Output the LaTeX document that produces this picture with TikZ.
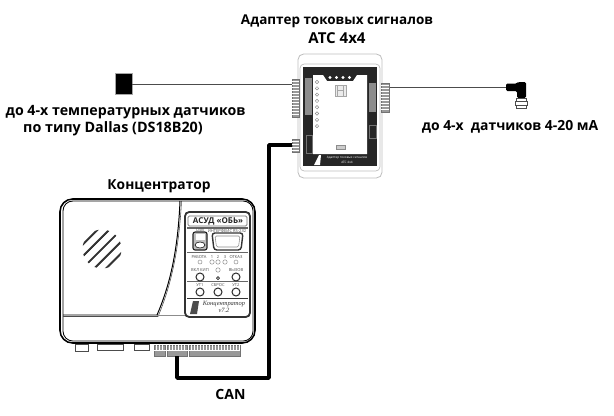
\documentclass[tikz,border=0pt]{standalone}
\usepackage{fontspec}
\setmainfont{Open Sans}
\newfontfamily\hubserif{Liberation Serif}
\usetikzlibrary{%
  calc,%
}

\tikzset{
  caption/.style={font=\fontsize{#1}{12}\selectfont\bfseries, inner sep=0pt},
  caption/.default=10,
  tiny label/.style={font=\fontsize{2.9}{3}\selectfont, inner sep=0pt, text=black!70},
  terminal/.style={draw=black!55, fill=black!40, line width=0.5pt, inner sep=0pt, anchor=north west},
  plug/.style={draw=black!70, fill=white, line width=0.5pt},
  panel key/.style={draw=black!85, line width=0.7pt, fill=white},
  panel led/.style={draw=black!45, line width=0.35pt, fill=white},
  cable/.style={black!70, line width=0.7pt},
  can cable/.style={black, line width=2.7pt, line join=round},
}

\begin{document}
\begin{tikzpicture}[x=0.25mm, y=-0.25mm]

      \useasboundingbox (0, 0) rectangle (614, 415);

      \node [caption=9.6] (adaptertitle) at (337, 21) {Адаптер токовых сигналов};
      \node [caption=10.7] (adaptermodel) at (337, 38) {АТС 4х4};
      \node [caption=10.1] (sensorstext) at (125.5, 112) {до 4-х температурных датчиков};
      \node [caption=10.2] (dallastext) at (113, 129) {по типу Dallas (DS18B20)};
      \node [caption=9.9] (currenttext) at (510, 127) {до 4-х~~датчиков 4-20 мА};
      \node [caption=9.8] (hubtext) at (159, 186) {Концентратор};
      \node [caption] (cantext) at (230.5, 394) {CAN};

      \draw [black!25, rounded corners=4pt, line width=0.6pt] (298, 54) rectangle (382, 178);
      \draw [black!25, rounded corners=3pt, line width=0.5pt] (300, 64) rectangle (380, 171);
      \fill [black!85] (303, 67) rectangle (377, 166);
      \fill [white] (313, 75) -- (323, 75) -- (327, 81) -- (353, 81) -- (357, 75) -- (367, 75) -- (367, 154) -- (313, 154) -- cycle;
      \fill [black!45] (305, 78) rectangle (312, 115);
      \fill [black!45] (369, 83) rectangle (376, 112);
      \draw [black!55, line width=0.5pt] (306, 135) rectangle (312, 153);
      \draw [black!55, line width=0.5pt] (369, 125) rectangle (376, 138);
      \foreach \n in {0, ..., 3}
        \fill [white] (330 + 6.5 * \n, 77.5) circle (1.6);
      \foreach \n in {0, ..., 7}
        \draw [panel led] (317, 82 + 6.3 * \n) circle (1.7);
      \draw [black!35, fill=black!8, line width=0.4pt] (335, 85) rectangle (346, 96);
      \draw [black!35, line width=0.4pt] (337.5, 85) -- (337.5, 96) (343.5, 85) -- (343.5, 96) (337.5, 90.5) -- (343.5, 90.5);
      \draw [black!45, fill=black!20, line width=0.4pt] (336, 145) rectangle (345, 149);
      \node [tiny label, text=white, font=\fontsize{2.2}{3}\selectfont] (adapterpanel) at (347, 158) {Адаптер токовых сигналов};
      \node [tiny label, text=white, font=\fontsize{2.2}{3}\selectfont] (adapterpanelb) at (347, 162) {АТС 4х4};
      \fill [white] (314, 165) -- (319, 155) -- (321, 155) -- (320, 165) -- cycle;

      \node [terminal, minimum width=5pt, minimum height=27pt] (adapterleft) at (292, 79) {};
      \node [terminal, minimum width=5pt, minimum height=9.3pt] (adaptercan) at (292, 139) {};
      \node [terminal, minimum width=5.7pt, minimum height=20.6pt] (adapterright) at (381, 83) {};
      \foreach \n in {0, ..., 11}
        \draw [white, line width=0.4pt] (292, 81.5 + 3 * \n) -- (299, 81.5 + 3 * \n);
      \foreach \n in {0, ..., 8}
        \draw [white, line width=0.4pt] (381, 85.5 + 3 * \n) -- (389, 85.5 + 3 * \n);
      \foreach \n in {0, ..., 3}
        \draw [white, line width=0.4pt] (292, 141.5 + 3 * \n) -- (299, 141.5 + 3 * \n);

      \node [fill=black, draw=black!35, line width=0.4pt, minimum width=12pt, minimum height=14.9pt, inner sep=0pt] (dallas) at (123.5, 83.5) {};
      \draw [cable] (dallas.east |- 0, 84) -- (adapterleft.west |- 0, 84);

      \coordinate (sensorin) at (506, 87);
      \draw [cable] (adapterright.east |- sensorin) -- (sensorin);
      \fill [black, rounded corners=1pt] (506, 83.5) -- (517, 83.5) -- (518, 82) -- (526, 82) -- (526, 98) -- (517, 98) -- (517, 91) -- (506, 91) -- cycle;
      \draw [plug] (516, 98) rectangle (526, 108);
      \draw [plug] (515, 101) rectangle (527, 105);

      \draw [black, line width=1.1pt, rounded corners=9pt] (60, 199) rectangle (255, 343);
      \draw [black, line width=0.6pt, rounded corners=7pt] (63, 201) rectangle (253, 341);
      \draw [black, line width=0.7pt] (63, 315) -- (157, 315) .. controls (170, 285) and (178, 250) .. (180, 201);
      \draw [black!70, line width=0.4pt] (63, 316.5) -- (158, 316.5) .. controls (171, 286) and (179, 250) .. (181.5, 201);
      \draw [black!45, line width=0.4pt] (157, 315) -- (185, 315);

      \begin{scope}
        \clip (102, 249) circle (19.5);
        \foreach \n in {-4, ..., 4}
          \draw [black!80, line width=1.5pt] (102 + 5.9 * \n - 25, 249 + 5.9 * \n + 25) -- (102 + 5.9 * \n + 25, 249 + 5.9 * \n - 25);
        \foreach \n in {-4, ..., 4}
          \draw [white, line width=0.7pt] (102 + 5.9 * \n - 25 + 1.2, 249 + 5.9 * \n + 25 + 1.2) -- (102 + 5.9 * \n + 25 + 1.2, 249 + 5.9 * \n - 25 + 1.2);
      \end{scope}

      \draw [black!80, fill=white, line width=1.3pt, rounded corners=3pt] (185, 212) rectangle (250, 317);
      \draw [black!55, line width=0.5pt, rounded corners=1pt] (188, 216) rectangle (247, 226);
      \node [inner sep=0pt, font=\fontsize{5.7}{6}\selectfont\bfseries, text=black!85] (hubname) at (218, 221) {АСУД «ОБЬ»};
      \draw [black!60, line width=1.1pt] (187, 228) -- (248, 228);
      \draw [black!60, line width=0.6pt] (187, 252) -- (248, 252);
      \draw [black!60, line width=0.6pt] (187, 281) -- (248, 281);
      \draw [black!80, line width=0.6pt] (187, 298) -- (248, 298);

      \node [tiny label] (usblabel) at (200, 230.2) {USB};
      \node [tiny label] (portlabel) at (227, 230.2) {ИНТЕРФЕЙС RS-232};
      \draw [black!85, line width=0.8pt, rounded corners=1.5pt, fill=black!25] (193, 232) rectangle (207, 250);
      \fill [white] (195.5, 234) rectangle (204.5, 240);
      \draw [black!85, line width=0.5pt, fill=white] (200, 245) ellipse (5 and 3);
      \draw [black!80, line width=1pt, rounded corners=2pt] (212, 233) -- (243, 233) -- (241, 250) -- (214, 250) -- cycle;
      \draw [black!45, line width=0.4pt, rounded corners=1pt] (215, 236) -- (240, 236) -- (238.5, 247) -- (216.5, 247) -- cycle;

      \node [tiny label] (ledwork) at (199, 257) {РАБОТА};
      \node [tiny label] (ledone) at (212, 257) {1};
      \node [tiny label] (ledtwo) at (218, 257) {2};
      \node [tiny label] (ledthree) at (225, 257) {3};
      \node [tiny label] (ledfail) at (236, 257) {ОТКАЗ};
      \draw [panel led] (200, 262) circle (2);
      \draw [panel led] (212, 262) circle (2.2);
      \draw [panel led] (218, 262) circle (2.2);
      \draw [panel led] (225, 262) circle (2.2);
      \draw [panel led] (236, 262) circle (2);
      \draw [panel led] (218, 270) circle (2.2);
      \draw [panel key, line width=0.5pt] (218, 278) circle (1.5);

      \node [tiny label] (keyon) at (200, 270) {ВКЛ КИП};
      \node [tiny label] (keycall) at (236, 270) {ВЫЗОВ};
      \node [tiny label] (keyone) at (200, 285) {УТ1};
      \node [tiny label] (keyreset) at (218, 285) {СБРОС};
      \node [tiny label] (keytwo) at (236, 285) {УТ2};
      \draw [panel key] (200, 277) circle (4);
      \draw [panel key] (236, 277) circle (4);
      \draw [panel key] (200, 292) circle (4);
      \draw [panel key] (218, 292) circle (4);
      \draw [panel key] (236, 292) circle (4);

      \fill [black!70] (193, 301) -- (199, 301) -- (197, 314) -- (190, 314) -- cycle;
      \node [inner sep=0pt, font=\hubserif\itshape\fontsize{4.6}{5.2}\selectfont, text=black!80, align=center] (hubversion) at (224, 307) {Концентратор\\v7.2};

      \draw [plug] (75, 344) rectangle (88, 351);
      \draw [plug, line width=0.7pt] (97, 344) rectangle (123, 350);
      \draw [plug, line width=0.7pt] (134, 344) rectangle (149, 350);

      \node [terminal, minimum width=8pt, minimum height=8pt] (hubleft) at (154, 344.5) {};
      \node [terminal, minimum width=14pt, minimum height=8pt] (hubcan) at (167, 344.5) {};
      \node [terminal, minimum width=36.5pt, minimum height=8pt] (hubright) at (189, 344.5) {};
      \foreach \n in {0, ..., 2}
        \draw [white, line width=0.4pt] (156.5 + 3 * \n, 344.5) -- (156.5 + 3 * \n, 350);
      \foreach \n in {0, ..., 5}
        \draw [white, line width=0.4pt] (169.5 + 3 * \n, 344.5) -- (169.5 + 3 * \n, 350);
      \foreach \n in {0, ..., 16}
        \draw [white, line width=0.4pt] (191 + 3 * \n, 344.5) -- (191 + 3 * \n, 350);
      \draw [white, line width=0.4pt] (154, 350) -- (240, 350);

      \draw [can cable] (hubcan.south -| 177, 0) -- (177, 378) -- (269, 378) -- (269, 145) -- (adaptercan.west |- 0, 145);

    \end{tikzpicture}
\end{document}
